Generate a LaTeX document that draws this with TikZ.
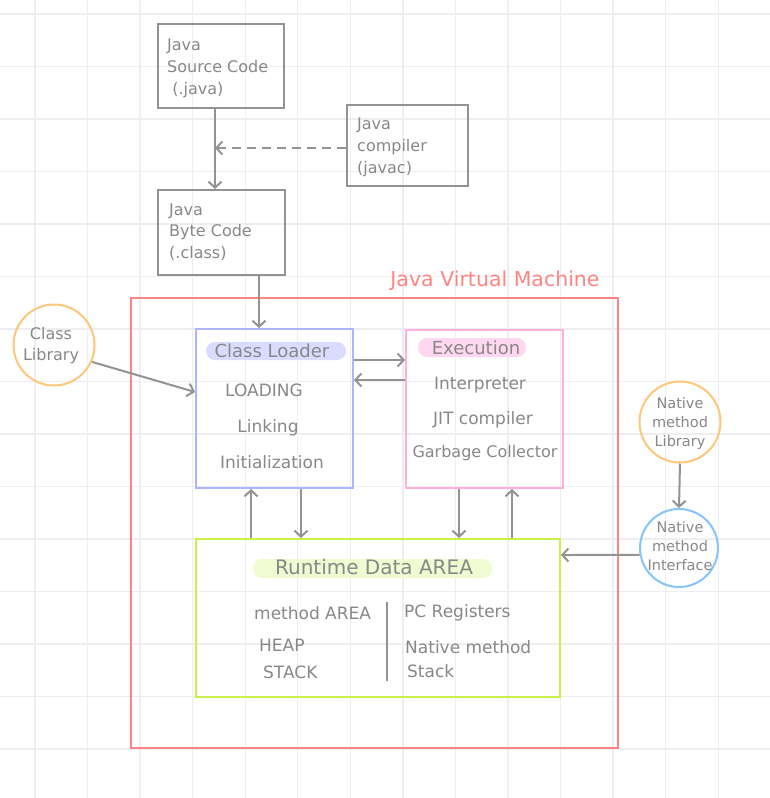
\documentclass[tikz,border=0pt]{standalone}
\usepackage{fontspec}
\setmainfont{DejaVu Sans}
\usetikzlibrary{arrows.meta}
\definecolor{txtgray}{HTML}{888888}
\definecolor{linegray}{HTML}{939393}
\definecolor{gridc}{HTML}{EEEEF0}
\definecolor{jvmred}{HTML}{FF8585}
\definecolor{clblue}{HTML}{B0B4FF}
\definecolor{clpill}{HTML}{D9DBFF}
\definecolor{expink}{HTML}{FFB0DC}
\definecolor{expill}{HTML}{FFD8EF}
\definecolor{rtgreen}{HTML}{CCF04A}
\definecolor{rtpill}{HTML}{F0FBD2}
\definecolor{orng}{HTML}{FFC77A}
\definecolor{ltblue}{HTML}{84C4FF}
\tikzset{
  gbox/.style={draw=linegray, line width=2pt, rectangle, inner sep=0pt},
  cbox/.style={line width=2pt, rectangle, inner sep=0pt},
  circ/.style={circle, line width=2pt, inner sep=0pt},
  txt/.style={text=txtgray, align=left, anchor=west, inner sep=0pt, font=\fontsize{16}{22}\selectfont},
  ctxt/.style={text=txtgray, align=center, inner sep=0pt, font=\fontsize{14.5}{19}\selectfont},
  itxt/.style={text=txtgray, inner sep=0pt, font=\fontsize{17}{18}\selectfont},
  ttxt/.style={text=txtgray, inner sep=0pt, font=\fontsize{18}{20}\selectfont},
  pill/.style={rounded corners=9pt, inner sep=0pt},
  conn/.style={draw=linegray, line width=2pt, -{Straight Barb[length=6pt,width=13pt,line width=2pt]}},
}
\begin{document}
\begin{tikzpicture}[x=1pt,y=-1pt]
\useasboundingbox (0,0) rectangle (770,798);
\fill[white] (0,0) rectangle (770,798);
% grid
\foreach \i in {0,...,14} {
  \draw[gridc, line width=1.3pt] ({35+52.55*\i},0) -- ({35+52.55*\i},798);
}
\foreach \j in {0,...,15} {
  \draw[gridc, line width=1.3pt] (0,{14+52.5*\j}) -- (770,{14+52.5*\j});
}
% top boxes
\node[gbox, minimum width=126pt, minimum height=84pt] (src) at (220.5,66) {};
\node[txt] (srct) at (167,68) {Java\\Source Code\\\ (.java)};
\node[gbox, minimum width=121pt, minimum height=81pt] (comp) at (407.5,145.5) {};
\node[txt] (compt) at (357,147) {Java\\compiler\\(javac)};
\node[gbox, minimum width=127pt, minimum height=85pt] (byte) at (221.5,232.5) {};
\node[txt, font=\fontsize{16}{21.5}\selectfont] (bytet) at (169,232) {Java\\Byte Code\\(.class)};
% JVM
\node[cbox, draw=jvmred, minimum width=487pt, minimum height=450pt] (jvm) at (374.5,523) {};
\node[text=jvmred, inner sep=0pt, font=\fontsize{20.5}{22}\selectfont] (jvmt) at (495,281) {Java Virtual Machine};
% class loader
\node[cbox, draw=clblue, minimum width=157pt, minimum height=159pt] (cl) at (274.5,408.5) {};
\fill[clpill, pill] (206,342) rectangle (346,360);
\node[ttxt] (clt) at (272,351) {Class Loader};
\node[itxt] (ld) at (264,390) {LOADING};
\node[itxt] (lk) at (268,428) {Linking};
\node[itxt] (in) at (272,462) {Initialization};
% execution
\node[cbox, draw=expink, minimum width=157pt, minimum height=158pt] (ex) at (484.5,409) {};
\fill[expill, pill] (418,338) rectangle (526,357);
\node[ttxt] (ext) at (476,348) {Execution};
\node[itxt] (ip) at (480,385) {Interpreter};
\node[itxt] (jit) at (483,420) {JIT compiler};
\node[itxt, font=\fontsize{16}{18}\selectfont] (gc) at (485,453) {Garbage Collector};
% runtime
\node[cbox, draw=rtgreen, minimum width=364pt, minimum height=158pt] (rt) at (378,618) {};
\fill[rtpill, pill] (253,559) rectangle (492,578);
\node[itxt, font=\fontsize{20}{22}\selectfont] (rtt) at (374,567) {Runtime Data AREA};
\node[itxt, anchor=west] (ma) at (254,613) {method AREA};
\node[itxt, anchor=west] (hp) at (259,645) {HEAP};
\node[itxt, anchor=west] (st) at (263,672) {STACK};
\node[itxt, anchor=west] (pc) at (404,613) {PC Registers};
\node[itxt, anchor=west] (nm) at (405,647) {Native method};
\node[itxt, anchor=west] (ns) at (407,671) {Stack};
\coordinate (dvt) at (387,602);
\coordinate (dvb) at (387,681);
\draw[linegray, line width=2pt] (dvt) -- (dvb);
% circles
\node[circ, draw=orng, minimum size=81pt] (clib) at (54,345) {};
\node[ctxt, font=\fontsize{16}{21}\selectfont] (clibt) at (51,346) {Class\\Library};
\node[circ, draw=orng, minimum size=81pt] (nml) at (680,422) {};
\node[ctxt] (nmlt) at (680,423) {Native\\method\\Library};
\node[circ, draw=ltblue, minimum size=78pt] (nmi) at (679,548) {};
\node[ctxt] (nmit) at (680,546) {Native\\method\\Interface};
% connectors
\draw[conn] (src.south -| 215,0) -- (byte.north -| 215,0);
\coordinate (mid) at (215,148);
\draw[conn, dashed, dash pattern=on 9pt off 6pt] (comp.west |- 0,148) -- (mid);
\draw[conn] (byte.south -| 259,0) -- (cl.north -| 259,0);
\draw[conn] (cl.east |- 0,360) -- (ex.west |- 0,360);
\draw[conn] (ex.west |- 0,380) -- (cl.east |- 0,380);
\draw[conn] (rt.north -| 251,0) -- (cl.south -| 251,0);
\draw[conn] (cl.south -| 301,0) -- (rt.north -| 301,0);
\draw[conn] (ex.south -| 459,0) -- (rt.north -| 459,0);
\draw[conn] (rt.north -| 512,0) -- (ex.south -| 512,0);
\draw[conn] (clib.336) -- (cl.west |- 0,392);
\draw[conn] (nml.south) -- (nmi.north);
\draw[conn] (nmi.190) -- (rt.east |- 0,555);
\end{tikzpicture}
\end{document}
